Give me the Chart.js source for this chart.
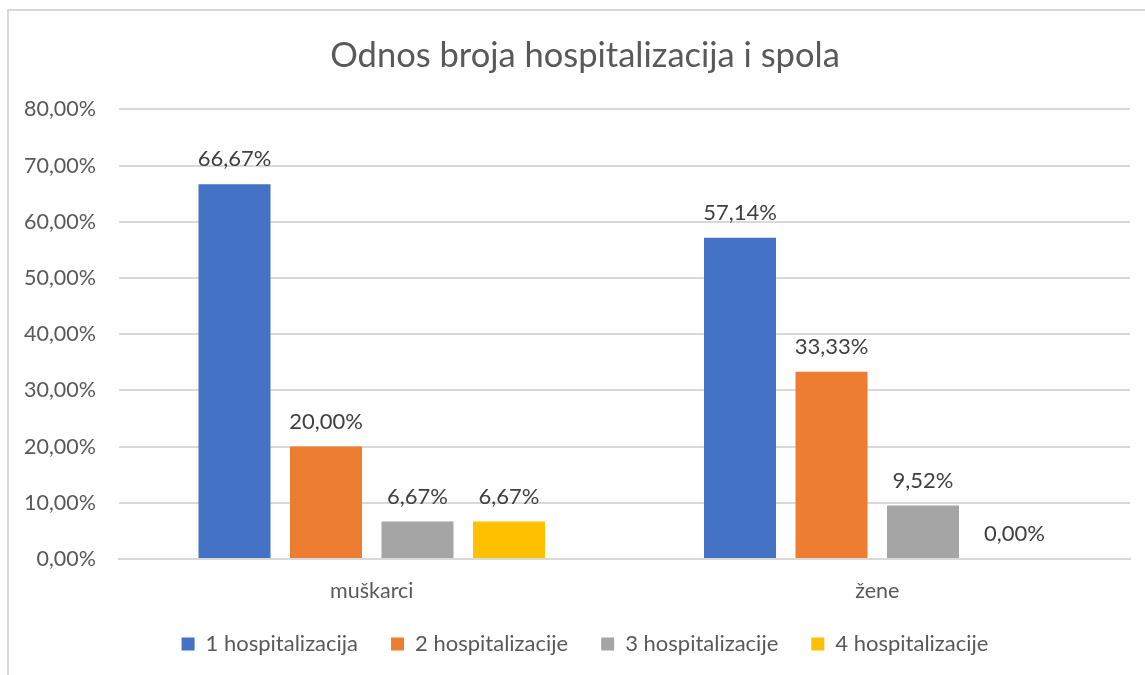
<!DOCTYPE html>
<html>
<head>
<meta charset="utf-8">
<script src="https://cdn.jsdelivr.net/npm/chart.js@4"></script>
<style>
    html, body { margin: 0; padding: 0; background: #fff; overflow: hidden; }
    .frame { position: absolute; left: 7px; top: 9px; width: 1160px; height: 700px; border: 2px solid #d9d9d9; }
    .wrap { position: absolute; left: 0; top: 0; width: 1145px; height: 675px; }
</style>
</head>
<body>
<div class="frame"></div>
<div class="wrap"><canvas id="chart"></canvas></div>
<script>
const categories = ['muškarci', 'žene'];
const seriesNames = ['1 hospitalizacija', '2 hospitalizacije', '3 hospitalizacije', '4 hospitalizacije'];
const hosp1 = [66.67, 57.14];
const hosp2 = [20.00, 33.33];
const hosp3 = [6.67, 9.52];
const hosp4 = [6.67, 0.00];
const colors = ['#4472C4', '#ED7D31', '#A5A5A5', '#FFC000'];
const yTicks = [0, 10, 20, 30, 40, 50, 60, 70, 80];

const FONT = 'Lato, "Open Sans", sans-serif';

function pct(v) {
    return v.toFixed(2).replace('.', ',') + '%';
}

/* value labels above the columns */
const valueLabels = {
    id: 'valueLabels',
    afterDatasetsDraw: function(chart) {
        const ctx = chart.ctx;
        ctx.save();
        ctx.font = '22px ' + FONT;
        ctx.fillStyle = '#404040';
        ctx.textAlign = 'center';
        ctx.textBaseline = 'middle';
        chart.data.datasets.forEach(function(ds, i) {
            chart.getDatasetMeta(i).data.forEach(function(bar, j) {
                ctx.fillText(pct(ds.data[j]), bar.x, bar.y - 25);
            });
        });
        ctx.restore();
    }
};

/* centre title and legend on the framed area, not on the plot box */
const centreBlocks = {
    id: 'centreBlocks',
    afterLayout: function(chart) {
        [chart.titleBlock, chart.legend].forEach(function(b) {
            if (!b) return;
            b.left = 20;
            b.right = 1150;
        });
    }
};

new Chart(document.getElementById('chart'), {
    type: 'bar',
    data: {
        labels: categories,
        datasets: [hosp1, hosp2, hosp3, hosp4].map(function(d, i) {
            return {
                label: seriesNames[i],
                data: d,
                backgroundColor: colors[i],
                borderWidth: 0,
                categoryPercentage: 0.724,
                barPercentage: 0.787
            };
        })
    },
    options: {
        responsive: true,
        maintainAspectRatio: false,
        animation: false,
        layout: { padding: { left: 0, right: 15, top: 0, bottom: 10 } },
        plugins: {
            title: {
                display: true,
                text: 'Odnos broja hospitalizacija i spola',
                color: '#595959',
                font: { family: FONT, size: 34.5, weight: 'normal' },
                padding: { top: 35, bottom: 33 }
            },
            legend: {
                position: 'bottom',
                labels: {
                    color: '#595959',
                    font: { family: FONT, size: 22 },
                    boxWidth: 13,
                    boxHeight: 13,
                    padding: 33
                }
            },
            tooltip: { enabled: false }
        },
        scales: {
            x: {
                afterFit: function(scale) { scale.height = 41; },
                grid: { display: false, drawTicks: false },
                border: { color: '#d9d9d9', width: 2 },
                ticks: { color: '#595959', font: { family: FONT, size: 21.5 }, padding: 19 }
            },
            y: {
                min: 0,
                max: 80,
                afterBuildTicks: function(scale) {
                    scale.ticks = yTicks.map(function(v) { return { value: v }; });
                },
                afterFit: function(scale) { scale.width = 119; },
                grid: { color: '#d9d9d9', lineWidth: 2, drawTicks: false },
                border: { display: false },
                ticks: {
                    color: '#595959',
                    font: { family: FONT, size: 21.5 },
                    padding: 23,
                    callback: function(v) { return pct(v); }
                }
            }
        }
    },
    plugins: [valueLabels, centreBlocks]
});
</script>
</body>
</html>
